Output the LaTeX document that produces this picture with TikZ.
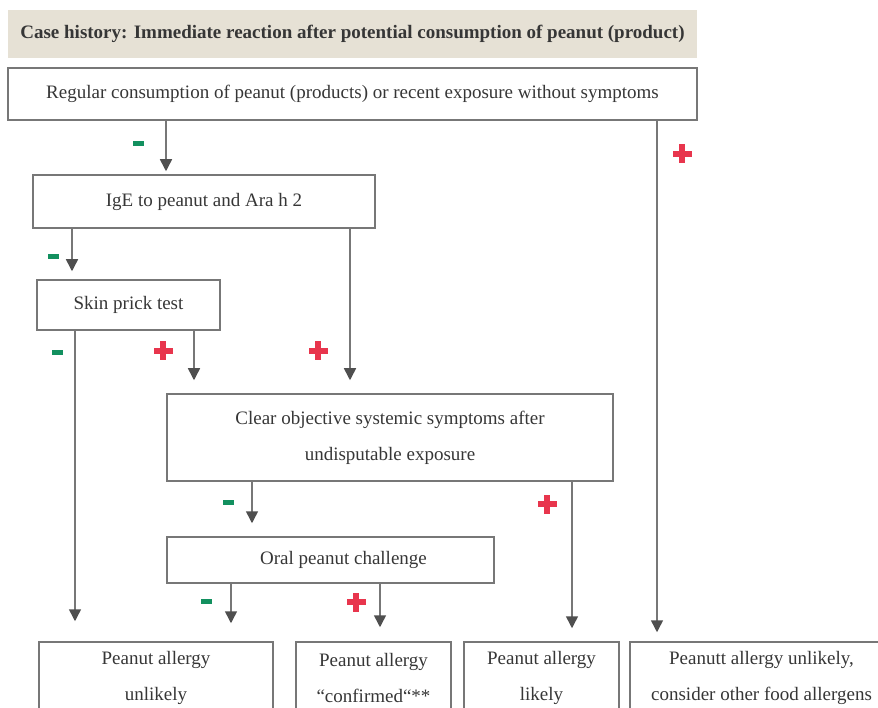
\documentclass[tikz,border=0pt]{standalone}
\usepackage{fontspec}
\setmainfont{Liberation Serif}
\usetikzlibrary{arrows.meta, calc}
\definecolor{textColor}{HTML}{363636}
\definecolor{lineColor}{HTML}{777777}
\definecolor{tipColor}{HTML}{4F4F4F}
\definecolor{titleColor}{HTML}{E6E1D5}
\definecolor{negColor}{HTML}{12905F}
\definecolor{posColor}{HTML}{E8354D}

\tikzset{
    box/.style={draw=lineColor, line width=1.5pt, inner sep=0pt, text=textColor,
        font=\fontsize{19}{36}\selectfont, align=center},
    txt/.style={inner sep=0pt, text=textColor, font=\fontsize{19}{36}\selectfont, align=center},
    titlebar/.style={fill=titleColor, inner sep=0pt, text=textColor,
        font=\fontsize{19}{23}\selectfont\bfseries},
    conn/.style={draw=lineColor, line width=1.5pt,
        -{Triangle[length=12pt,width=12pt,color=tipColor]}},
    line/.style={draw=lineColor, line width=1.5pt},
    neg/.pic={\fill[negColor] (-5.5,-2.5) rectangle (5.5,2.5);},
    pos/.pic={\fill[posColor] (-9.5,-3) rectangle (9.5,3);
        \fill[posColor] (-3,-9.5) rectangle (3,9.5);}
}

\begin{document}
\begin{tikzpicture}[x=1pt, y=-1pt]
    \useasboundingbox (0,0) rectangle (878,708);
    \clip (0,0) rectangle (878,708);
    % boxes
    \node[titlebar, minimum width=689, minimum height=48] (title) at (352.5,34)
        {Case history: Immediate reaction after potential consumption of peanut (product)};
    \node[box, minimum width=689, minimum height=52] (top) at (352.5,94)
        {Regular consumption of peanut (products) or recent exposure without symptoms};
    \node[box, minimum width=342, minimum height=53] (ige) at (204,201.5) {IgE to peanut and Ara h 2};
    \node[box, minimum width=183, minimum height=50] (spt) at (128.5,305) {Skin prick test};
    \node[box, minimum width=446, minimum height=87] (clear) at (390,437.5)
        {Clear objective systemic symptoms after\\undisputable exposure};
    \node[box, minimum width=327, minimum height=46] (oral) at (330.5,560) {};
    \node[txt] (oraltext) at ($(oral)+(13,0)$) {Oral peanut challenge};
    % outcomes
    \node[box, minimum width=234, minimum height=71] (unlikely) at (156,677.5) {Peanut allergy\\unlikely};
    \node[box, minimum width=155, minimum height=71] (confirmed) at (373.5,677.5) {Peanut allergy\\“confirmed“**};
    \node[box, minimum width=155, minimum height=71] (likely) at (541.5,677.5) {Peanut allergy\\likely};
    \node[box, minimum width=263, minimum height=71] (other) at (761.5,677.5)
        {Peanutt allergy unlikely,\\consider other food allergens};
    % connectors
    \draw[conn, shorten >=3pt] (top.south -| 166,0) -- (ige.north -| 166,0);
    \draw[conn, shorten >=9pt] (top.south -| 657,0) -- (other.north -| 657,0);
    \draw[conn, shorten >=8pt] (ige.south -| 72,0) -- (spt.north -| 72,0);
    \draw[conn, shorten >=13pt] (ige.south -| 350,0) -- (clear.north -| 350,0);
    \draw[conn, shorten >=20pt] (spt.south -| 75,0) -- (unlikely.north -| 75,0);
    \draw[conn, shorten >=13pt] (spt.south -| 194,0) -- (clear.north -| 194,0);
    \draw[conn, shorten >=13pt] (clear.south -| 252,0) -- (oral.north -| 252,0);
    \draw[conn, shorten >=13pt] (clear.south -| 572,0) -- (likely.north -| 572,0);
    \draw[conn, shorten >=18pt] (oral.south -| 231,0) -- (unlikely.north -| 231,0);
    \draw[conn, shorten >=14pt] (oral.south -| 380,0) -- (confirmed.north -| 380,0);
    % signs
    \pic at (138,144) {neg};
    \pic at (682,154) {pos};
    \pic at (53,257) {neg};
    \pic at (318,351) {pos};
    \pic at (57,353) {neg};
    \pic at (163,351) {pos};
    \pic at (228,502) {neg};
    \pic at (547,504) {pos};
    \pic at (206,601) {neg};
    \pic at (356,602) {pos};
\end{tikzpicture}
\end{document}
